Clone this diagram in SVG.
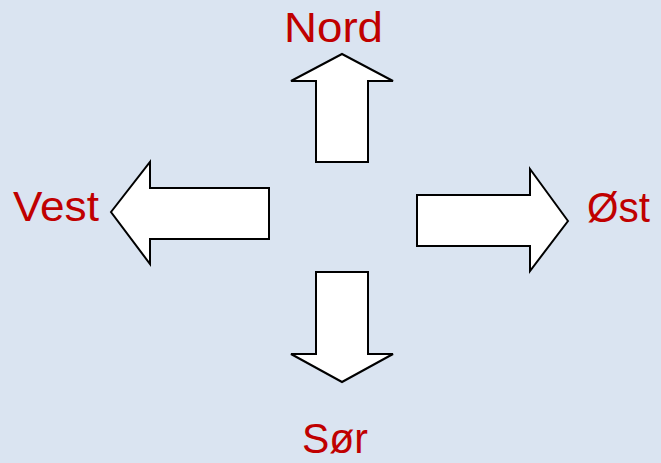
<svg xmlns="http://www.w3.org/2000/svg" width="661" height="463" viewBox="0 0 661 463">
<style>
.arrow{fill:#FFFFFF;stroke:#000000;stroke-width:2;stroke-linejoin:miter}
.lbl{font-family:"Comic Sans MS","Liberation Sans","DejaVu Sans",sans-serif;font-size:43px;fill:#C00000}
</style>
<rect x="0" y="0" width="661" height="463" fill="#DAE4F1"/>
<g id="connectors"></g>
<g id="nord">
<polygon class="arrow" points="342,54 393,81 368,81 368,162 316,162 316,81 291,81"/>
<text class="lbl" x="284" y="42" textLength="99" lengthAdjust="spacingAndGlyphs">Nord</text>
</g>
<g id="vest">
<polygon class="arrow" points="111,212 150,162 150,188 269,188 269,239 150,239 150,264"/>
<text class="lbl" x="13" y="221" textLength="86" lengthAdjust="spacingAndGlyphs">Vest</text>
</g>
<g id="ost">
<polygon class="arrow" points="568,221 530,169 530,195 417,195 417,246 530,246 530,271"/>
<text class="lbl" x="587" y="222" textLength="63" lengthAdjust="spacingAndGlyphs">Øst</text>
</g>
<g id="sor">
<polygon class="arrow" points="342,382 393,354 368,354 368,272 316,272 316,354 291,354"/>
<text class="lbl" x="302" y="453" textLength="66" lengthAdjust="spacingAndGlyphs">Sør</text>
</g>
</svg>
